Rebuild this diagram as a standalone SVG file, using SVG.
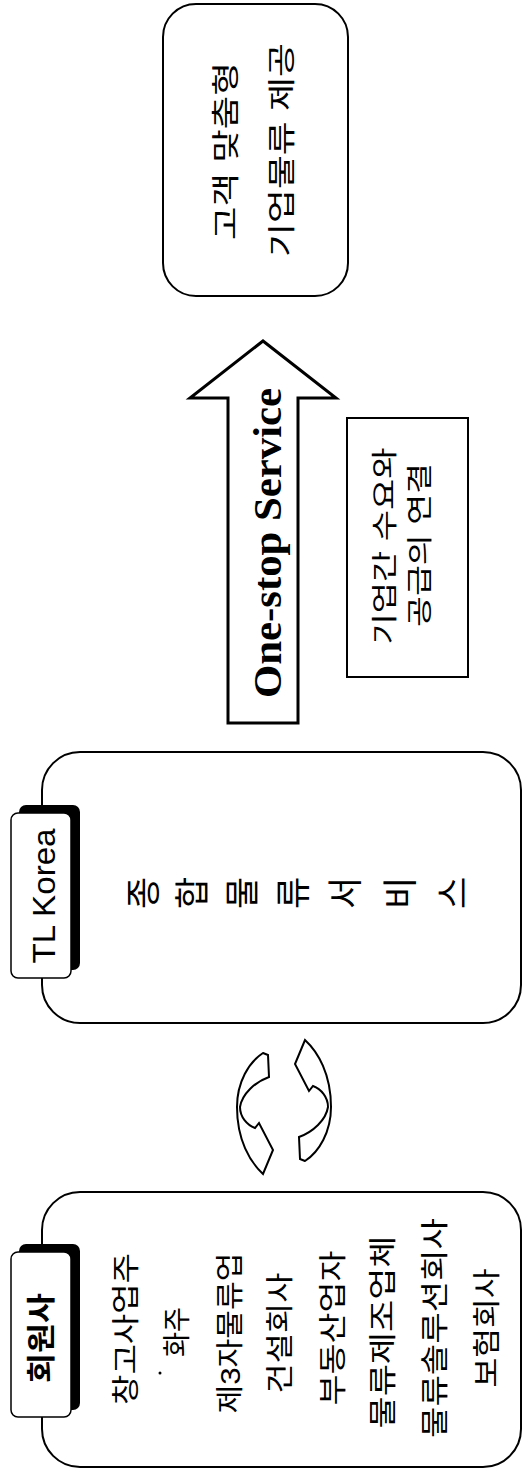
<svg xmlns="http://www.w3.org/2000/svg" width="523" height="1475" viewBox="0 0 523 1475">
<style>
.box{fill:#fff;stroke:#000;stroke-width:2}
.shadow{fill:#000}
.tab{fill:#fff;stroke:#000;stroke-width:1.5}
.ko{font-family:"Liberation Sans","Noto Sans CJK KR",sans-serif;fill:#000;dominant-baseline:central;text-anchor:middle}
.lat{font-family:"Liberation Sans",Arial,sans-serif;fill:#000;text-anchor:middle}
.ser{font-family:"Liberation Serif","Times New Roman",serif;font-weight:bold;fill:#000;text-anchor:middle}
.arr{fill:#fff;stroke:#000;stroke-width:2;stroke-linejoin:miter}
</style>
<rect width="523" height="1475" fill="#fff"/>

<g id="node-customer">
  <rect class="box" x="163" y="4" width="185" height="292" rx="33"/>
  <text class="ko" font-size="28" textLength="178" lengthAdjust="spacingAndGlyphs" transform="translate(226.5,151) rotate(-90)">고객 맞춤형</text>
  <text class="ko" font-size="28" textLength="214" lengthAdjust="spacingAndGlyphs" transform="translate(282,150) rotate(-90)">기업물류 제공</text>
</g>

<g id="node-link">
  <rect x="347" y="418" width="121" height="259" fill="#fff" stroke="#000" stroke-width="2"/>
  <text class="ko" font-size="26" textLength="197" lengthAdjust="spacingAndGlyphs" transform="translate(385,546) rotate(-90)">기업간 수요와</text>
  <text class="ko" font-size="26" textLength="164" lengthAdjust="spacingAndGlyphs" transform="translate(420,545) rotate(-90)">공급의 연결</text>
</g>

<g id="node-tlkorea">
  <rect class="box" x="42" y="752" width="479" height="271" rx="38"/>
  <rect class="shadow" x="19" y="805" width="61" height="165" rx="7"/>
  <rect class="tab" x="11" y="813" width="60" height="165" rx="7"/>
  <text class="lat" font-size="32" textLength="135" lengthAdjust="spacingAndGlyphs" transform="translate(55,896) rotate(-90)">TL Korea</text>
  <g class="ko" font-size="35">
    <text transform="translate(143,893) rotate(-90)">종</text>
    <text transform="translate(192,893) rotate(-90)">합</text>
    <text transform="translate(242,893) rotate(-90)">물</text>
    <text transform="translate(293,893) rotate(-90)">류</text>
    <text transform="translate(345,893) rotate(-90)">서</text>
    <text transform="translate(400,893) rotate(-90)">비</text>
    <text transform="translate(453,893) rotate(-90)">스</text>
  </g>
</g>

<g id="node-members">
  <rect class="box" x="42" y="1192" width="479" height="275" rx="38"/>
  <rect class="shadow" x="19" y="1244" width="61" height="166" rx="7"/>
  <rect class="tab" x="11" y="1252" width="60" height="165" rx="7"/>
  <text class="ko" font-size="29" font-weight="bold" textLength="90" lengthAdjust="spacingAndGlyphs" transform="translate(42,1338) rotate(-90)">회원사</text>
  <g class="ko" font-size="28">
    <text textLength="152" lengthAdjust="spacingAndGlyphs" transform="translate(126,1329) rotate(-90)">창고사업주</text>
    <text textLength="50" lengthAdjust="spacingAndGlyphs" transform="translate(177,1332) rotate(-90)">화주</text>
    <text textLength="161" lengthAdjust="spacingAndGlyphs" transform="translate(230,1333) rotate(-90)">제3자물류업</text>
    <text textLength="121" lengthAdjust="spacingAndGlyphs" transform="translate(280,1333) rotate(-90)">건설회사</text>
    <text textLength="155" lengthAdjust="spacingAndGlyphs" transform="translate(333,1328) rotate(-90)">부동산업자</text>
    <text textLength="193" lengthAdjust="spacingAndGlyphs" transform="translate(383,1332) rotate(-90)">물류제조업체</text>
    <text textLength="220" lengthAdjust="spacingAndGlyphs" transform="translate(435,1328) rotate(-90)">물류솔루션회사</text>
    <text textLength="119" lengthAdjust="spacingAndGlyphs" transform="translate(487,1328) rotate(-90)">보험회사</text>
  </g>
  <circle cx="160" cy="1373" r="1.5" fill="#000"/>
</g>

<g id="connectors">
  <g id="onestop-arrow">
    <path d="M228,723 L228,398 L190,398 L263,341 L336,398 L298,398 L298,723 Z" fill="#fff" stroke="#000" stroke-width="3" stroke-linejoin="miter"/>
    <text class="ser" font-size="41" textLength="310" lengthAdjust="spacingAndGlyphs" transform="translate(281,543) rotate(-90)">One-stop Service</text>
  </g>
  <g id="cycle-arrows">
    <path id="cyc" class="arr" d="M263,1053 L268,1055 L269,1077 C255,1082 242,1094 240,1107 C240,1117 247,1125 255,1128 L259,1123 L273,1150 L263,1174 C250,1162 237,1140 237,1107 C237,1082 249,1062 263,1053 Z"/>
    <use href="#cyc" transform="rotate(180,284,1107)"/>
  </g>
</g>
</svg>
